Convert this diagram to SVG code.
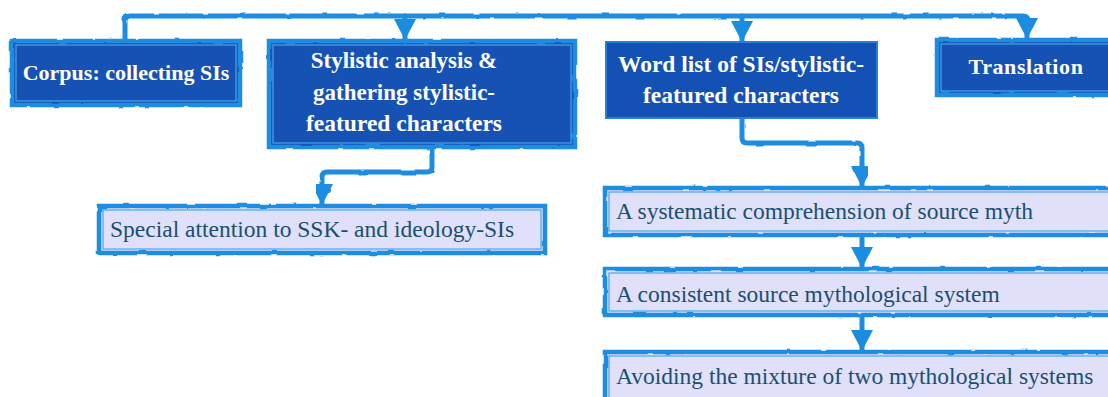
<svg xmlns="http://www.w3.org/2000/svg" width="1108" height="397" viewBox="0 0 1108 397">
<style>
.dark{fill:#1351b4;stroke:#1b8de0;stroke-width:4.5}
.dark2{fill:#1351b4;stroke:#2a7fd6;stroke-width:2}
.light{fill:#e0e0fa;stroke:#1b8de0;stroke-width:4.5}
.inner{fill:none;stroke:#4aa6ec;stroke-width:1.2}
.hd{font-family:"Liberation Serif","Times New Roman",serif;font-weight:bold;fill:#ffffff;text-anchor:middle}
.bd{font-family:"Liberation Serif","Times New Roman",serif;fill:#1a4f72;font-size:23.5px}
.con{fill:none;stroke:#1b8de0;stroke-width:5;stroke-linejoin:round;stroke-linecap:round}
</style>
<defs>
<marker id="ah" markerUnits="userSpaceOnUse" markerWidth="24" markerHeight="24" viewBox="0 0 24 24" refX="21" refY="11" orient="auto">
<path d="M0,0 L21,11 L0,22 Z" fill="#1b8de0"/>
</marker>
<filter id="rough" x="-5%" y="-20%" width="110%" height="140%">
<feTurbulence type="fractalNoise" baseFrequency="0.06" numOctaves="2" seed="3" result="n"/>
<feDisplacementMap in="SourceGraphic" in2="n" scale="2.5"/>
</filter>
</defs>

<g id="connectors">
<path class="con" d="M125,40 V21 Q125,16 130,16 H1023 Q1028,16 1028,21 V24" filter="url(#rough)"/>
<path class="con" d="M405,16 V40" marker-end="url(#ah)"/>
<path class="con" d="M742,16 V42" marker-end="url(#ah)"/>
<path class="con" d="M1027,18 V39" marker-end="url(#ah)"/>
<path class="con" d="M432,147 V167 Q432,172 427,172 H327 Q322,172 322,177 V205" marker-end="url(#ah)" filter="url(#rough)"/>
<path class="con" d="M742,118 V138 Q742,143 747,143 H857 Q862,143 862,148 V187" marker-end="url(#ah)" filter="url(#rough)"/>
<path class="con" d="M862,235 V268" marker-end="url(#ah)"/>
<path class="con" d="M862,315 V351" marker-end="url(#ah)"/>
</g>

<g id="corpus">
<rect class="dark" x="12" y="41" width="228" height="64" filter="url(#rough)"/>
<rect class="inner" x="16" y="45" width="220" height="56"/>
<text class="hd" x="126" y="80" font-size="22">Corpus: collecting SIs</text>
</g>

<g id="stylistic">
<rect class="dark" x="269" y="41" width="306" height="106" filter="url(#rough)"/>
<rect class="inner" x="273" y="45" width="298" height="98"/>
<text class="hd" x="404" y="68" font-size="23">Stylistic analysis &amp;</text>
<text class="hd" x="404" y="100" font-size="23">gathering stylistic-</text>
<text class="hd" x="404" y="131" font-size="23.5">featured characters</text>
</g>

<g id="wordlist">
<rect class="dark2" x="606" y="42" width="271" height="76"/>
<text class="hd" x="741" y="72" font-size="23.5">Word list of SIs/stylistic-</text>
<text class="hd" x="741" y="103" font-size="23.5">featured characters</text>
</g>

<g id="translation">
<rect class="dark" x="937" y="40" width="180" height="55" filter="url(#rough)"/>
<rect class="inner" x="941" y="44" width="172" height="47"/>
<text class="hd" x="1026" y="74" font-size="22" letter-spacing="0.6">Translation</text>
</g>

<g id="special">
<rect class="light" x="99" y="206" width="446" height="47" filter="url(#rough)"/>
<rect class="inner" x="103" y="210" width="438" height="39"/>
<text class="bd" x="110" y="237">Special attention to SSK- and ideology-SIs</text>
</g>

<g id="systematic">
<rect class="light" x="605" y="188" width="510" height="47" filter="url(#rough)"/>
<rect class="inner" x="609" y="192" width="502" height="39"/>
<text class="bd" x="616" y="219">A systematic comprehension of source myth</text>
</g>

<g id="consistent">
<rect class="light" x="605" y="269" width="510" height="46" filter="url(#rough)"/>
<rect class="inner" x="609" y="273" width="502" height="38"/>
<text class="bd" x="616" y="302">A consistent source mythological system</text>
</g>

<g id="avoiding">
<rect class="light" x="605" y="352" width="510" height="50" filter="url(#rough)"/>
<rect class="inner" x="609" y="356" width="502" height="42"/>
<text class="bd" x="616" y="384">Avoiding the mixture of two mythological systems</text>
</g>
</svg>
